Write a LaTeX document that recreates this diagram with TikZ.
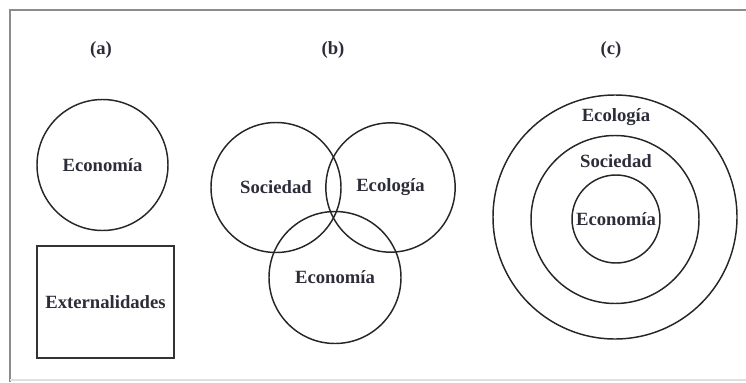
\documentclass[tikz,border=0pt]{standalone}
\usepackage{fontspec}
\setmainfont{Liberation Serif}
\definecolor{inkgray}{RGB}{45,45,58}
\definecolor{framegray}{RGB}{140,140,140}

\begin{document}
\begin{tikzpicture}[x=0.75pt,y=-0.75pt,
		every node/.style={text=inkgray,font=\bfseries\fontsize{14}{16}\selectfont},
		ring/.style={draw=black!85,line width=1.1pt,circle,inner sep=0pt,outer sep=0pt},
		box/.style={draw=black!80,line width=1.9pt,rectangle,inner sep=0pt}]
		\useasboundingbox (0,0) rectangle (746,382);
		% frame
		\draw[framegray,line width=1.8pt] (10,382) -- (10,10) -- (746,10);
		\draw[black!12,line width=0.8pt] (10,380) -- (746,380);
		% (a)
		\node (lbla) at (101,50) {(a)};
		\node[ring,minimum size=98.25pt] (ecoa) at (102.5,165) {Economía};
		\node[box,minimum width=102.75pt,minimum height=84pt] (ext) at (105.5,302) {Externalidades};
		% (b)
		\node (lblb) at (333,50) {(b)};
		\node[ring,minimum size=97.5pt] (socb) at (276,187.5) {Sociedad};
		\node[ring,minimum size=97pt] (ecolb) at (390.5,187.5) {Ecología};
		\node[ring,minimum size=99pt] (ecob) at (335,277.5) {Economía};
		% (c)
		\node (lblc) at (611,50) {(c)};
		\node[ring,minimum size=183pt] (ecolc) at (615,217) {};
		\node[ring,minimum size=126pt] (socc) at (615,219.5) {};
		\node[ring,minimum size=66pt] (ecoc) at (616,219) {Economía};
		\node (tecolc) at (616,117) {Ecología};
		\node (tsocc) at (616,161) {Sociedad};
	\end{tikzpicture}
\end{document}
